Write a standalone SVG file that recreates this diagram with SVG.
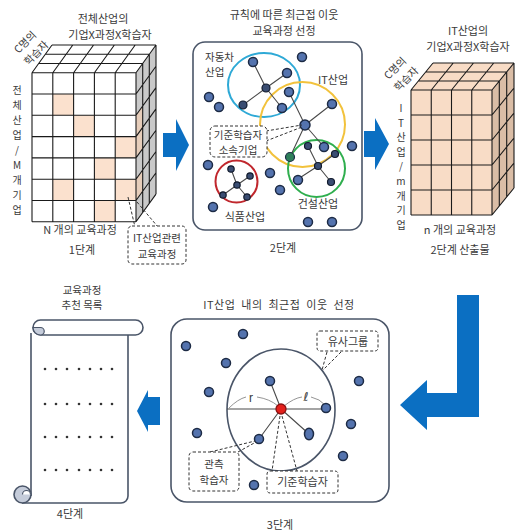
<svg xmlns="http://www.w3.org/2000/svg" width="516" height="531" viewBox="0 0 516 531">
<defs>
<style>
text{font-family:"Noto Sans CJK KR","Noto Sans",sans-serif;font-size:11px;fill:#3a3a3a}
.c{text-anchor:middle}
.sm{font-size:10.5px}
.v{font-size:10px}
.g{stroke:#1a1a1a;stroke-width:1.1;fill:none}
.box{fill:#fff;stroke:#4a5568;stroke-width:1.6}
.dash{fill:#fff;stroke:#333;stroke-width:1;stroke-dasharray:3 2}
.dl{fill:none;stroke:#333;stroke-width:1;stroke-dasharray:3 2}
.n{fill:#5473AE;stroke:#1D2B45;stroke-width:1.5}
.s{fill:#3A4D72;stroke:#111a2c;stroke-width:1.2}
.e{stroke:#4a4a4a;stroke-width:1.1;fill:none}
.arrow{fill:#0B6FC2}
.pk{fill:#FBE1CE}
.dot{fill:#333}
</style>
</defs>

<!-- Stage 1 -->
<g id="stage1">
  <text class="c" x="103" y="23">전체산업의</text>
  <text class="c" x="110" y="39">기업X과정X학습자</text>
  <text class="c sm" transform="translate(25,42) rotate(-45)"><tspan x="0" y="4">C명의</tspan><tspan x="0" y="19.5">학습자</tspan></text>
  <text class="c v" x="17" y="94">전</text>
  <text class="c v" x="17" y="109">체</text>
  <text class="c v" x="17" y="124">산</text>
  <text class="c v" x="17" y="139">업</text>
  <text class="c v" x="17" y="154">/</text>
  <text class="c v" x="17" y="169">M</text>
  <text class="c v" x="17" y="184">개</text>
  <text class="c v" x="17" y="199">기</text>
  <text class="c v" x="17" y="214">업</text>
  <rect x="32" y="72.7" width="104" height="149.1" fill="#fff"/>
  <rect class="pk" x="52.8" y="94" width="20.8" height="21.3"/>
  <rect class="pk" x="73.6" y="115.3" width="20.8" height="21.3"/>
  <rect class="pk" x="115.2" y="136.6" width="20.8" height="21.3"/>
  <rect class="pk" x="94.4" y="157.9" width="20.8" height="21.3"/>
  <rect class="pk" x="52.8" y="179.2" width="20.8" height="21.3"/>
  <rect class="pk" x="115.2" y="179.2" width="20.8" height="21.3"/>
  <rect class="pk" x="94.4" y="200.5" width="20.8" height="21.3"/>
  <polygon points="32,72.7 136,72.7 156,45 52,45" fill="#fff"/>
  <polygon points="136,72.7 156,45 156,194.1 136,221.8" fill="#c9c9c9"/>
  <polygon points="136,115.3 142.7,106.1 142.7,127.4 136,136.6" fill="#E6CDBA"/>
  <polygon points="136,136.6 142.7,127.4 142.7,148.7 136,157.9" fill="#E6CDBA"/>
  <polygon points="136,179.2 142.7,170 142.7,191.3 136,200.5" fill="#E6CDBA"/>
  <path class="g" d="M32,72.7V221.8M52.8,72.7V221.8M73.6,72.7V221.8M94.4,72.7V221.8M115.2,72.7V221.8M136,72.7V221.8
  M32,94H136M32,115.3H136M32,136.6H136M32,157.9H136M32,179.2H136M32,200.5H136M32,221.8H136
  M52,45H156M45.3,54.2H149.3M38.7,63.5H142.7M32,72.7H136
  M32,72.7L52,45M52.8,72.7L72.8,45M73.6,72.7L93.6,45M94.4,72.7L114.4,45M115.2,72.7L135.2,45M136,72.7L156,45
  M142.7,63.5V212.6M149.3,54.2V203.3M156,45V194.1
  M136,94L156,66.3M136,115.3L156,87.6M136,136.6L156,108.9M136,157.9L156,130.2M136,179.2L156,151.5M136,200.5L156,172.8M136,221.8L156,194.1"/>
  <text class="c" x="80" y="234">N 개의 교육과정</text>
  <text class="c" x="82" y="254">1단계</text>
</g>

<g id="callout-it-course">
  <path class="dl" d="M128,197L135,227M137,202L158,227"/>
  <rect class="dash" x="128" y="226" width="58" height="38" rx="4"/>
  <text class="c sm" x="157" y="242">IT산업관련</text>
  <text class="c sm" x="157" y="258">교육과정</text>
</g>

<!-- Stage 2 -->
<g id="stage2">
  <text class="c" x="284" y="19">규칙에 따른 최근접  이웃</text>
  <text class="c" x="284" y="35">교육과정 선정</text>
  <rect class="box" x="193" y="42" width="169" height="188" rx="12"/>
  <ellipse cx="264" cy="85" rx="36" ry="32" fill="none" stroke="#2EA9D6" stroke-width="2"/>
  <circle cx="302.5" cy="124.5" r="42.5" fill="none" stroke="#F2C23C" stroke-width="2"/>
  <circle cx="316.5" cy="168.5" r="28.5" fill="none" stroke="#2FAE4E" stroke-width="2"/>
  <circle cx="236.5" cy="181.5" r="21" fill="none" stroke="#C0272D" stroke-width="2"/>
  <g id="edges2">
    <path class="e" d="M266,88L253,62M266,88L287,73M266,88L243,105M266,88L282,108"/>
    <path class="e" d="M305,125L289,92M305,125L332,104M305,125L324,147M305,125L290,157"/>
    <path class="e" d="M318,166L308,146M318,166L335,154M318,166L298,179M318,166L331,182"/>
    <path class="e" d="M237,185L231,169M237,185L250,176M237,185L223,195M237,185L247,197"/>
  </g>
  <g id="nodes2">
    <circle class="n" cx="253" cy="62" r="4.5"/>
    <circle class="n" cx="302" cy="57" r="4.5"/>
    <circle class="n" cx="287" cy="73" r="4.5"/>
    <circle class="s" cx="266" cy="88" r="4"/>
    <circle class="n" cx="289" cy="92" r="4.5"/>
    <circle class="n" cx="209" cy="97" r="4.5"/>
    <circle class="n" cx="219" cy="107" r="4.5"/>
    <circle class="s" cx="243" cy="105" r="4"/>
    <circle class="n" cx="282" cy="108" r="4.5"/>
    <circle class="n" cx="332" cy="104" r="4.5"/>
    <circle class="n" cx="305" cy="125" r="5"/>
    <circle class="n" cx="352" cy="146" r="4.5"/>
    <circle class="n" cx="324" cy="147" r="4.5"/>
    <circle class="s" cx="308" cy="146" r="3.5"/>
    <circle cx="290" cy="157" r="4.5" fill="#2E7F5A" stroke="#1D2B45" stroke-width="1.2"/>
    <circle class="s" cx="335" cy="154" r="3.5"/>
    <circle class="s" cx="318" cy="166" r="3.5"/>
    <circle class="n" cx="298" cy="180" r="4.5"/>
    <circle class="s" cx="331" cy="182" r="3.5"/>
    <circle class="n" cx="208" cy="165" r="4.5"/>
    <circle class="n" cx="270" cy="173" r="4.5"/>
    <circle class="n" cx="280" cy="190" r="4.5"/>
    <circle class="n" cx="213" cy="207" r="4.5"/>
    <circle class="n" cx="308" cy="222" r="4.5"/>
    <circle class="n" cx="332" cy="222" r="4.5"/>
    <circle class="s" cx="237" cy="185" r="3.2"/>
    <circle class="s" cx="231" cy="169" r="3.2"/>
    <circle class="s" cx="250" cy="176" r="3.2"/>
    <circle class="s" cx="223" cy="195" r="3.2"/>
    <circle class="s" cx="247" cy="197" r="3.2"/>
  </g>
  <text class="sm" x="205" y="61">자동차</text>
  <text class="sm" x="205" y="76">산업</text>
  <text x="318" y="84">IT산업</text>
  <text class="c" x="318" y="208">건설산업</text>
  <text class="c" x="245" y="221">식품산업</text>
  <text class="c" x="283" y="252">2단계</text>
</g>

<g id="callout-base-company">
  <path class="dl" d="M266,131L302,125M266,141L302,127"/>
  <rect class="dash" x="210" y="126" width="57" height="31" rx="5"/>
  <text class="c sm" x="238" y="139">기준학습자</text>
  <text class="c sm" x="238" y="154">소속기업</text>
</g>

<!-- Stage 2 output cube -->
<g id="stage2-output">
  <text class="c" x="468" y="35">IT산업의</text>
  <text class="c" x="468" y="51">기업X과정X학습자</text>
  <text class="c sm" transform="translate(395,68) rotate(-45)"><tspan x="0" y="4">C명의</tspan><tspan x="0" y="19.5">학습자</tspan></text>
  <text class="c v" x="401" y="112">I</text>
  <text class="c v" x="401" y="126.6">T</text>
  <text class="c v" x="401" y="141.2">산</text>
  <text class="c v" x="401" y="155.8">업</text>
  <text class="c v" x="401" y="170.4">/</text>
  <text class="c v" x="401" y="185">m</text>
  <text class="c v" x="401" y="199.6">개</text>
  <text class="c v" x="401" y="214.2">기</text>
  <text class="c v" x="401" y="228.8">업</text>
  <rect x="411" y="90" width="81" height="125" fill="#F8DCC6"/>
  <polygon points="411,90 492,90 514,63 433,63" fill="#F8DCC6"/>
  <polygon points="492,90 514,63 514,188 492,215" fill="#DABDA6"/>
  <path class="g" d="M411,90V215M431.25,90V215M451.5,90V215M471.75,90V215M492,90V215
  M411,90H492M411,115H492M411,140H492M411,165H492M411,190H492M411,215H492
  M433,63H514M425.7,72H506.7M418.3,81H499.3
  M411,90L433,63M431.25,90L453.25,63M451.5,90L473.5,63M471.75,90L493.75,63M492,90L514,63
  M499.3,81V206M506.7,72V197M514,63V188
  M492,115L514,88M492,140L514,113M492,165L514,138M492,190L514,163M492,215L514,188"/>
  <text class="c" x="460" y="234">n 개의 교육과정</text>
  <text class="c" x="460" y="254">2단계 산출물</text>
</g>

<!-- Stage 3 -->
<g id="stage3">
  <text class="c" x="279" y="309" style="word-spacing:3px;letter-spacing:0.5px">IT산업 내의 최근접 이웃 선정</text>
  <rect class="box" x="171" y="319" width="218" height="183" rx="16"/>
  <ellipse cx="281" cy="410" rx="54" ry="61" fill="none" stroke="#4a5568" stroke-width="1.6"/>
  <path class="e" d="M227,409H326M281,409L270,381M281,409L309,434M281,409L259,439"/>
  <path d="M229,408Q238,399 246,397M257,397Q270,399 278,406M284,406Q294,398 302,397M311,397Q320,399 325,405" fill="none" stroke="#888" stroke-width="0.9"/>
  <text class="c" x="251" y="402" style="font-family:'Liberation Sans',sans-serif;font-size:12px">r</text>
  <text class="c" x="306" y="401" style="font-family:'DejaVu Sans',sans-serif;font-size:12px">ℓ</text>
  <g id="nodes3">
    <circle class="n" cx="270" cy="381" r="4.5"/>
    <circle class="n" cx="326" cy="408" r="4.5"/>
    <ellipse class="n" cx="309" cy="434" rx="4.5" ry="5.8"/>
    <circle class="n" cx="259" cy="439" r="4.5"/>
    <circle class="n" cx="186" cy="346" r="4.5"/>
    <circle class="n" cx="243" cy="334" r="4.5"/>
    <circle class="n" cx="226" cy="363" r="4.5"/>
    <circle class="n" cx="209" cy="392" r="4.5"/>
    <circle class="n" cx="197" cy="433" r="4.5"/>
    <circle class="n" cx="359" cy="381" r="4.5"/>
    <circle class="n" cx="351" cy="424" r="4.5"/>
    <circle class="n" cx="343" cy="456" r="4.5"/>
    <circle class="n" cx="254" cy="485" r="4.5"/>
    <circle cx="281" cy="409" r="5" fill="#E3201B" stroke="#8A1010" stroke-width="1.3"/>
  </g>
  <text class="c" x="280" y="529">3단계</text>
</g>

<g id="callout-similar">
  <path class="dl" d="M327,352L322,370M341,352L323,370"/>
  <rect class="dash" x="317" y="331" width="61" height="20" rx="3"/>
  <text class="c" x="348" y="345.5">유사그룹</text>
</g>
<g id="callout-observed">
  <path class="dl" d="M210,452L255,441M238,452L256,442"/>
  <rect class="dash" x="189" y="452" width="50" height="39" rx="4"/>
  <text class="c sm" x="214" y="468">관측</text>
  <text class="c sm" x="214" y="483.5">학습자</text>
</g>
<g id="callout-base-learner">
  <path class="dl" d="M280,416L272,471M282,416L297,471"/>
  <rect class="dash" x="267" y="471" width="71" height="22" rx="3"/>
  <text class="c" x="302.5" y="486">기준학습자</text>
</g>

<!-- Stage 4 -->
<g id="stage4">
  <text class="c sm" x="82" y="293.5">교육과정</text>
  <text class="c sm" x="82" y="309">추천 목록</text>
  <rect x="31" y="335" width="97" height="168" fill="#fff"/>
  <path d="M31,333V496M128,335V496A7,7 0 0 1 121,503H22" fill="none" stroke="#4a5568" stroke-width="1.6"/>
  <rect x="33" y="320" width="110" height="15" rx="7.5" fill="#fff" stroke="#4a5568" stroke-width="1.6"/>
  <path d="M33,327.5A7.5,7.5 0 0 0 40.5,335A3.75,3.75 0 0 0 40.5,327.5Z" fill="#C5CCDA" stroke="#4a5568" stroke-width="1.2"/>
  <circle cx="22.5" cy="494.5" r="8.5" fill="#C5CCDA" stroke="#4a5568" stroke-width="1.6"/>
  <path d="M22.5,494.5A4,4 0 0 1 30.5,494.5" fill="#fff" stroke="#4a5568" stroke-width="1.2"/>
  <g id="list-dots">
    <g class="dot">
      <circle cx="45" cy="369" r="1.3"/><circle cx="56" cy="369" r="1.3"/><circle cx="67" cy="369" r="1.3"/><circle cx="79" cy="369" r="1.3"/><circle cx="90" cy="369" r="1.3"/><circle cx="101" cy="369" r="1.3"/><circle cx="112" cy="369" r="1.3"/>
      <circle cx="45" cy="404" r="1.3"/><circle cx="56" cy="404" r="1.3"/><circle cx="67" cy="404" r="1.3"/><circle cx="79" cy="404" r="1.3"/><circle cx="90" cy="404" r="1.3"/><circle cx="101" cy="404" r="1.3"/><circle cx="112" cy="404" r="1.3"/>
      <circle cx="45" cy="437" r="1.3"/><circle cx="56" cy="437" r="1.3"/><circle cx="67" cy="437" r="1.3"/><circle cx="79" cy="437" r="1.3"/><circle cx="90" cy="437" r="1.3"/><circle cx="101" cy="437" r="1.3"/><circle cx="112" cy="437" r="1.3"/>
      <circle cx="45" cy="470" r="1.3"/><circle cx="56" cy="470" r="1.3"/><circle cx="67" cy="470" r="1.3"/><circle cx="79" cy="470" r="1.3"/><circle cx="90" cy="470" r="1.3"/><circle cx="101" cy="470" r="1.3"/><circle cx="112" cy="470" r="1.3"/>
    </g>
  </g>
  <text class="c" x="70" y="518">4단계</text>
</g>

<!-- Connectors -->
<g id="connectors">
  <polygon class="arrow" points="163,133 176,133 176,119 189,145 176,171 176,157 163,157"/>
  <polygon class="arrow" points="364,131 375,131 375,118 389,144 375,170 375,157 364,157"/>
  <polygon class="arrow" points="457,295 479,295 479,417 427,417 427,430 400,405 427,380 427,393 457,393"/>
  <polygon class="arrow" points="160,397 148,397 148,390 137,411 148,432 148,425 160,425"/>
</g>
</svg>
